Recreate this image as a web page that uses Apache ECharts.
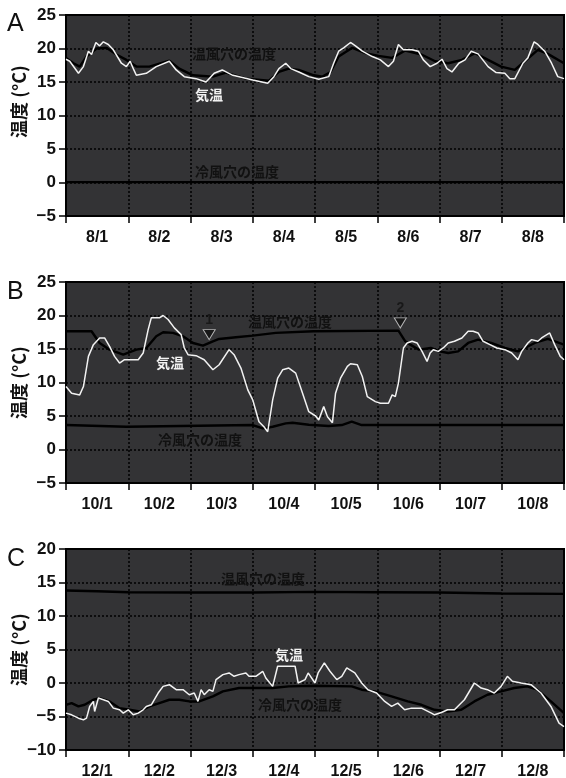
<!DOCTYPE html>
<html>
<head>
<meta charset="utf-8">
<script src="https://cdn.jsdelivr.net/npm/echarts@6/dist/echarts.min.js"></script>
<style>
html, body { margin: 0; padding: 0; background: #fff; }
#chart { width: 566px; height: 778px; }
</style>
</head>
<body>
<div id="chart"></div>
<script>
// 日付ラベル
const daysA = ['8/1', '8/2', '8/3', '8/4', '8/5', '8/6', '8/7', '8/8'];
const daysB = ['10/1', '10/2', '10/3', '10/4', '10/5', '10/6', '10/7', '10/8'];
const daysC = ['12/1', '12/2', '12/3', '12/4', '12/5', '12/6', '12/7', '12/8'];

// A: 8月  [経過日, 温度]
const airA = [[0,18.4],[0.06,18.1],[0.2,16.3],[0.28,17.3],[0.36,19.6],[0.41,19.1],[0.48,20.9],[0.54,20.4],[0.6,21.0],[0.68,20.6],[0.76,19.8],[0.89,17.8],[0.97,17.3],[1.03,18.1],[1.09,16.8],[1.13,16.0],[1.29,16.3],[1.45,17.3],[1.66,18.1],[1.77,16.8],[1.9,15.8],[2.09,15.5],[2.25,15.0],[2.38,16.3],[2.51,16.8],[2.68,16.0],[3.0,15.3],[3.24,14.8],[3.34,15.8],[3.42,17.0],[3.53,17.8],[3.61,17.0],[3.74,16.5],[3.9,15.8],[4.06,15.4],[4.22,15.8],[4.3,17.8],[4.38,19.6],[4.46,20.1],[4.57,20.9],[4.65,20.4],[4.76,19.6],[4.92,18.8],[5.05,18.3],[5.18,17.3],[5.26,18.1],[5.34,20.6],[5.42,19.8],[5.56,19.8],[5.66,19.6],[5.74,18.3],[5.85,17.3],[5.96,17.8],[6.04,18.4],[6.12,17.0],[6.2,16.5],[6.31,17.8],[6.41,18.3],[6.51,19.6],[6.62,19.2],[6.78,17.3],[6.91,16.4],[7.05,16.3],[7.13,15.5],[7.21,15.5],[7.34,17.8],[7.42,18.6],[7.52,21.0],[7.58,20.6],[7.69,19.6],[7.8,17.8],[7.9,15.8],[8.0,15.5]];
const warmA = [[0,18.6],[0.12,17.8],[0.22,17.3],[0.33,18.8],[0.49,20.0],[0.65,20.1],[0.81,19.1],[0.97,18.3],[1.13,17.3],[1.34,17.3],[1.66,18.2],[1.82,17.0],[2.04,16.0],[2.36,15.8],[2.57,16.4],[2.89,15.5],[3.26,15.2],[3.42,16.5],[3.58,17.0],[3.74,16.8],[3.98,16.0],[4.12,15.8],[4.25,16.5],[4.38,18.8],[4.6,20.1],[4.81,19.3],[5.02,18.9],[5.24,18.6],[5.45,19.7],[5.71,19.1],[5.93,18.1],[6.14,17.8],[6.36,18.3],[6.57,19.3],[6.78,18.3],[6.99,17.3],[7.21,16.8],[7.37,18.1],[7.58,19.8],[7.74,19.2],[8.0,17.8]];
const coldA = [[0,0.05],[8,0.05]];

// B: 10月
const airB = [[0,9.4],[0.09,8.4],[0.22,8.15],[0.28,9.4],[0.36,13.9],[0.44,15.65],[0.54,16.65],[0.62,16.65],[0.7,15.4],[0.78,13.9],[0.86,12.9],[0.94,13.4],[1.05,13.4],[1.16,13.4],[1.24,14.4],[1.32,17.9],[1.37,19.65],[1.5,19.65],[1.56,20.0],[1.64,19.4],[1.74,18.15],[1.85,17.15],[1.9,15.15],[1.96,14.15],[2.09,14.0],[2.22,13.4],[2.36,11.9],[2.46,12.65],[2.62,14.9],[2.7,14.15],[2.81,12.15],[2.92,8.9],[3.0,7.4],[3.1,4.15],[3.18,3.4],[3.24,2.65],[3.32,7.4],[3.4,10.65],[3.48,11.9],[3.58,12.15],[3.69,11.4],[3.8,8.4],[3.9,5.65],[4.01,5.0],[4.06,4.4],[4.14,6.4],[4.2,4.9],[4.28,4.0],[4.33,8.4],[4.41,10.65],[4.52,12.4],[4.57,12.8],[4.68,12.65],[4.76,10.9],[4.84,7.9],[4.97,7.15],[5.05,6.9],[5.18,6.9],[5.24,8.15],[5.29,7.9],[5.34,9.9],[5.42,15.15],[5.48,15.9],[5.56,16.15],[5.64,15.9],[5.72,14.65],[5.8,13.15],[5.85,14.4],[5.9,14.9],[5.98,14.65],[6.06,15.15],[6.14,15.9],[6.24,16.15],[6.36,16.65],[6.46,17.65],[6.54,17.65],[6.62,17.4],[6.7,16.15],[6.81,15.65],[6.92,15.15],[7.05,14.9],[7.16,14.4],[7.26,13.4],[7.32,14.65],[7.42,15.9],[7.48,16.4],[7.58,16.15],[7.64,16.65],[7.77,17.4],[7.85,15.65],[7.94,13.9],[8.0,13.4]];
const warmB = [[0,17.65],[0.41,17.65],[0.54,15.9],[0.7,14.9],[0.92,14.15],[1.13,14.9],[1.29,15.15],[1.45,16.9],[1.56,17.5],[1.72,17.4],[1.88,16.9],[2.04,15.9],[2.2,15.5],[2.36,16.15],[2.46,16.5],[2.73,16.75],[3.0,17.0],[3.37,17.4],[3.98,17.65],[5.34,17.75],[5.45,16.15],[5.53,15.65],[5.67,14.9],[5.86,15.15],[6.0,14.65],[6.14,14.4],[6.3,14.65],[6.46,15.9],[6.62,16.4],[6.83,15.9],[7.05,15.15],[7.26,14.65],[7.53,15.9],[7.74,16.5],[8.0,15.65]];
const coldB = [[0,3.65],[0.97,3.4],[3.0,3.65],[3.16,3.15],[3.32,3.4],[3.53,3.9],[3.64,4.0],[3.9,3.7],[4.22,3.5],[4.43,3.65],[4.59,4.15],[4.75,3.65],[8.0,3.65]];
// ▼ 印
const markX = [2.3, 5.37];
const markY = [17.15, 18.9];
const markText = ['1', '2'];

// C: 12月
const airC = [[0,-4.5],[0.09,-4.75],[0.2,-5.25],[0.28,-5.5],[0.33,-5.25],[0.38,-3.5],[0.44,-2.75],[0.46,-4.25],[0.52,-2.25],[0.6,-2.5],[0.68,-2.75],[0.76,-3.75],[0.86,-4.0],[0.92,-4.5],[1.0,-4.0],[1.08,-4.75],[1.16,-4.5],[1.24,-4.0],[1.29,-3.5],[1.37,-3.25],[1.48,-1.5],[1.56,-0.5],[1.66,-0.25],[1.77,-1.0],[1.88,-1.0],[1.98,-1.75],[2.06,-1.5],[2.12,-2.75],[2.17,-1.0],[2.22,-1.75],[2.3,-1.0],[2.36,-1.25],[2.41,0.5],[2.52,1.25],[2.62,1.5],[2.7,1.0],[2.78,1.25],[2.89,1.5],[2.94,1.0],[3.05,1.0],[3.16,1.75],[3.21,0.75],[3.32,-0.5],[3.4,2.5],[3.44,2.5],[3.68,2.5],[3.73,0],[3.84,0.5],[3.89,1.5],[4.0,0],[4.05,1.5],[4.15,3.0],[4.24,1.75],[4.35,0.5],[4.43,1.0],[4.51,2.25],[4.64,1.5],[4.75,0],[4.85,-1.0],[4.99,-1.5],[5.12,-2.75],[5.23,-3.5],[5.33,-3.0],[5.44,-4.0],[5.55,-3.75],[5.71,-3.75],[5.87,-4.5],[5.92,-4.75],[6.03,-4.4],[6.13,-4.0],[6.24,-4.0],[6.4,-2.5],[6.56,0],[6.67,-0.75],[6.77,-1.0],[6.88,-1.5],[6.99,-0.5],[7.09,1.0],[7.17,0.25],[7.31,0],[7.47,-0.25],[7.63,-1.5],[7.79,-3.5],[7.92,-6.0],[8.0,-6.5]];
const warmC = [[0,13.8],[0.5,13.7],[1.0,13.55],[2.0,13.5],[3.0,13.5],[4.0,13.6],[5.0,13.55],[6.0,13.5],[7.0,13.35],[8.0,13.3]];
const coldC = [[0,-3.25],[0.09,-3.0],[0.2,-3.5],[0.3,-3.25],[0.44,-2.5],[0.54,-2.25],[0.7,-2.75],[0.86,-3.75],[1.02,-4.0],[1.18,-4.25],[1.34,-3.5],[1.5,-3.0],[1.66,-2.5],[1.82,-2.5],[1.98,-2.75],[2.14,-2.75],[2.36,-2.0],[2.52,-1.25],[2.78,-0.75],[3.1,-0.75],[3.32,-0.75],[3.58,-0.5],[4.0,-0.4],[4.59,-0.5],[4.75,-1.0],[4.96,-1.25],[5.23,-2.0],[5.49,-2.75],[5.71,-3.25],[5.92,-4.0],[6.13,-4.25],[6.35,-4.0],[6.56,-2.75],[6.77,-1.75],[6.99,-1.25],[7.2,-0.75],[7.41,-0.5],[7.57,-1.0],[7.79,-2.75],[8.0,-4.5]];

const chart = echarts.init(document.getElementById('chart'));

const xFont = { fontFamily: 'Liberation Sans', fontWeight: 'bold', fontSize: 16, color: '#111' };
const yFont = { fontFamily: 'Liberation Sans', fontWeight: 'bold', fontSize: 17, color: '#111' };
const dotted = { color: '#000', width: 1.5, type: [2, 2] };
const tops = [15, 282, 549];
const yMin = [-5, -5, -10];
const yMax = [25, 25, 20];
const cats = [daysA, daysB, daysC];
const namePad = [[0, 0, 0, 28], [0, 0, 0, 0], [0, 0, 0, 0]];

const grid = [], xAxis = [], yAxis = [];
tops.forEach((t, i) => {
  grid.push({
    left: 66, right: 2, top: t, height: 201, outerBoundsMode: 'none',
    show: true, backgroundColor: '#333335', borderColor: '#000', borderWidth: 2
  });
  // 日の区切り
  xAxis.push({
    type: 'value', gridIndex: i, min: 0, max: 8, interval: 1, position: 'bottom',
    axisLine: { onZero: false, lineStyle: { color: '#000', width: 2 } },
    axisTick: { show: true, length: 7, lineStyle: { color: '#000', width: 1.5 } },
    axisLabel: { show: false },
    splitLine: { show: true, lineStyle: dotted }
  });
  // 日付ラベル
  xAxis.push({
    type: 'category', gridIndex: i, data: cats[i], boundaryGap: true, position: 'bottom',
    axisLine: { show: false, onZero: false },
    axisTick: { show: false },
    splitLine: { show: false },
    axisLabel: Object.assign({ margin: 14 }, xFont)
  });
  yAxis.push({
    type: 'value', gridIndex: i, min: yMin[i], max: yMax[i], interval: 5,
    name: '温度 (°C)', nameLocation: 'middle', nameGap: 38, nameMoveOverlap: false,
    nameTextStyle: { fontFamily: 'Noto Sans CJK JP', fontWeight: 'bold', fontSize: 18, color: '#111', padding: namePad[i] },
    axisLine: { show: true, lineStyle: { color: '#000', width: 2 } },
    axisTick: { show: true, length: 7, lineStyle: { color: '#000', width: 1.5 } },
    axisLabel: Object.assign({ margin: 10, formatter: v => String(v).replace('-', '\u2212') }, yFont),
    splitLine: { show: true, lineStyle: dotted }
  });
});

function line(data, i, color, width) {
  return {
    type: 'line', xAxisIndex: i * 2, yAxisIndex: i, data: data,
    showSymbol: false, symbol: 'none', silent: true,
    lineStyle: { color: color, width: width }
  };
}

const series = [
  line(coldA, 0, '#000', 2.4), line(warmA, 0, '#000', 2.4), line(airA, 0, '#f2f2f2', 1.5),
  line(coldB, 1, '#000', 2.4), line(warmB, 1, '#000', 2.4), line(airB, 1, '#f2f2f2', 1.5),
  line(coldC, 2, '#000', 2.4), line(warmC, 2, '#000', 2.4), line(airC, 2, '#f2f2f2', 1.5),
  {
    type: 'scatter', xAxisIndex: 2, yAxisIndex: 1, silent: true,
    data: markX.map((x, k) => ({ value: [x, markY[k]], name: markText[k] })),
    symbol: 'triangle', symbolRotate: 180, symbolSize: [12, 10],
    itemStyle: { color: '#111', borderColor: '#d8d8d8', borderWidth: 1 },
    label: { show: true, position: 'top', distance: 2, formatter: p => p.name,
      fontFamily: 'Liberation Sans', fontSize: 14, fontWeight: 'bold', color: '#111' }
  }
];

function txt(x, y, s, color) {
  return {
    type: 'text', x: x, y: y, z: 100,
    style: { text: s, fill: color, font: 'bold 14px "Noto Sans CJK JP"', textAlign: 'center', textVerticalAlign: 'middle' }
  };
}
function letter(y, s) {
  return { type: 'text', x: 7, y: y, style: { text: s, fill: '#111', font: '25px "Liberation Sans"' } };
}

chart.setOption({
  animation: false,
  grid: grid, xAxis: xAxis, yAxis: yAxis, series: series,
  graphic: [
    letter(12, 'A'), letter(280, 'B'), letter(547, 'C'),
    txt(234, 54, '温風穴の温度', '#111'), txt(209, 95, '気温', '#f2f2f2'), txt(237, 172, '冷風穴の温度', '#111'),
    txt(290, 322, '温風穴の温度', '#111'), txt(170, 363, '気温', '#f2f2f2'), txt(200, 440, '冷風穴の温度', '#111'),
    txt(263, 579, '温風穴の温度', '#111'), txt(289, 655, '気温', '#f2f2f2'), txt(300, 705, '冷風穴の温度', '#111')
  ]
});
</script>
</body>
</html>
